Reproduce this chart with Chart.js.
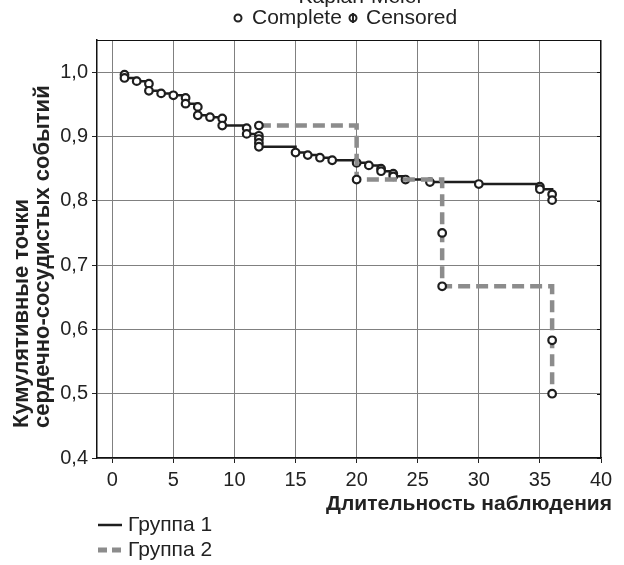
<!DOCTYPE html>
<html>
<head>
<meta charset="utf-8">
<script src="https://cdn.jsdelivr.net/npm/chart.js@4.4.1/dist/chart.umd.min.js"></script>
<style>
  html, body { margin: 0; padding: 0; background: #ffffff; }
  #c { display: block; }
</style>
</head>
<body>
<canvas id="c" width="624" height="565"></canvas>
<script>
// ---- data ----
const group1Time = [1, 1, 2, 3, 3, 4, 5, 6, 6, 7, 7, 8, 9, 9, 11, 11, 12, 12, 12, 12, 15, 16, 17, 18, 20, 21, 22, 22, 23, 23, 24, 26, 30, 35, 35, 36, 36];
const group1Surv = [0.996, 0.991, 0.986, 0.982, 0.971, 0.967, 0.964, 0.960, 0.951, 0.946, 0.933, 0.930, 0.928, 0.917, 0.913, 0.904, 0.901, 0.896, 0.890, 0.884, 0.875, 0.871, 0.867, 0.863, 0.859, 0.855, 0.850, 0.846, 0.842, 0.838, 0.833, 0.829, 0.826, 0.822, 0.818, 0.810, 0.801];
const group2Time = [12, 20, 27, 27, 36, 36];
const group2Surv = [0.917, 0.833, 0.750, 0.667, 0.583, 0.500];
const seriesNames = ['Группа 1', 'Группа 2'];
const xTicks = [0, 5, 10, 15, 20, 25, 30, 35, 40];
const yTicks = [0.4, 0.5, 0.6, 0.7, 0.8, 0.9, 1.0];
const yTickLabels = ['0,4', '0,5', '0,6', '0,7', '0,8', '0,9', '1,0'];
const titleText = 'Kaplan-Meier';
const markerLegend = ['Complete', 'Censored'];
const xTitle = 'Длительность наблюдения';
const yTitleLines = ['Кумулятивные точки', 'сердечно-сосудистых событий'];

const FONT = "'Liberation Sans', Arial, sans-serif";
Chart.defaults.font.family = FONT;

const g1 = group1Time.map((t, i) => ({ x: t, y: group1Surv[i] }));
const g2 = group2Time.map((t, i) => ({ x: t, y: group2Surv[i] }));

const decorPlugin = {
  id: 'decor',
  beforeDatasetsDraw(chart) {
    const c = chart.ctx, a = chart.chartArea;
    c.save();
    c.strokeStyle = '#111';
    c.lineWidth = 1;
    c.beginPath();
    c.moveTo(a.left, a.top + 0.5); c.lineTo(a.right, a.top + 0.5);
    c.moveTo(a.right - 0.5, a.top); c.lineTo(a.right - 0.5, a.bottom);
    const ys = chart.scales.y;
    yTicks.forEach(v => {
      const py = Math.round(ys.getPixelForValue(v)) + 0.5;
      c.moveTo(a.right, py); c.lineTo(a.right - 4, py);
    });
    c.stroke();
    c.restore();
  },
  afterDraw(chart) {
    const c = chart.ctx;
    c.save();
    c.fillStyle = '#222';
    // cut-off title
    c.font = '21px ' + FONT;
    c.textAlign = 'center';
    c.textBaseline = 'alphabetic';
    c.fillText(titleText, 361, 3);
    // marker legend
    c.font = '21px ' + FONT;
    c.textAlign = 'left';
    c.textBaseline = 'middle';
    c.strokeStyle = '#222';
    c.lineWidth = 2;
    c.beginPath(); c.arc(238, 18, 3.5, 0, Math.PI * 2); c.stroke();
    c.fillText(markerLegend[0], 252, 18);
    c.beginPath(); c.arc(353, 18, 3.5, 0, Math.PI * 2); c.stroke();
    c.beginPath(); c.moveTo(353, 13); c.lineTo(353, 23); c.stroke();
    c.fillText(markerLegend[1], 366, 18);
    // x title
    c.font = 'bold 21px ' + FONT;
    c.textAlign = 'right';
    c.textBaseline = 'alphabetic';
    c.fillText(xTitle, 612, 510);
    // y title
    c.font = 'bold 22px ' + FONT;
    c.save();
    c.translate(0, 428);
    c.rotate(-Math.PI / 2);
    c.textAlign = 'left';
    c.fillText(yTitleLines[0], 0, 28);
    c.fillText(yTitleLines[1], 0, 49);
    c.restore();
    // series legend
    c.font = '21px ' + FONT;
    c.textAlign = 'left';
    c.textBaseline = 'middle';
    c.strokeStyle = '#1e1e1e';
    c.lineWidth = 2.5;
    c.beginPath(); c.moveTo(98, 525); c.lineTo(122, 525); c.stroke();
    c.fillText(seriesNames[0], 128, 525);
    c.strokeStyle = '#8c8c8c';
    c.lineWidth = 5;
    c.setLineDash([9, 5]);
    c.beginPath(); c.moveTo(98, 550); c.lineTo(122, 550); c.stroke();
    c.setLineDash([]);
    c.fillText(seriesNames[1], 128, 550);
    c.restore();
  }
};

new Chart(document.getElementById('c'), {
  type: 'scatter',
  data: {
    datasets: [
      {
        label: seriesNames[0], data: g1, showLine: true, stepped: 'before',
        borderColor: '#1e1e1e', borderWidth: 2.5,
        pointRadius: 3.8, pointBorderWidth: 2.2, pointBackgroundColor: '#ffffff', pointBorderColor: '#1e1e1e',
        order: 2
      },
      {
        label: seriesNames[1], data: g2, showLine: true, stepped: 'before',
        borderColor: '#8c8c8c', borderWidth: 4.5, borderDash: [12, 6], borderCapStyle: 'butt',
        pointRadius: 3.8, pointBorderWidth: 2.2, pointBackgroundColor: '#ffffff', pointBorderColor: '#1e1e1e',
        order: 1
      }
    ]
  },
  options: {
    responsive: false,
    animation: false,
    devicePixelRatio: 1,
    layout: { padding: { left: 0, right: 23, top: 40, bottom: 0 } },
    plugins: { legend: { display: false }, tooltip: { enabled: false }, title: { display: false } },
    scales: {
      x: {
        type: 'linear', min: -1.25, max: 40,
        afterBuildTicks: s => { s.ticks = xTicks.map(v => ({ value: v })); },
        afterFit: s => { s.height = 107; },
        ticks: { font: { size: 20 }, color: '#222', padding: 5, maxRotation: 0, autoSkip: false, callback: v => String(v) },
        grid: { color: '#808080', lineWidth: 1, tickLength: 5, tickColor: '#222' },
        border: { color: '#111', width: 1.5 }
      },
      y: {
        type: 'linear', min: 0.4, max: 1.05,
        afterBuildTicks: s => { s.ticks = yTicks.map(v => ({ value: v })); },
        afterFit: s => { s.width = 97; },
        ticks: { font: { size: 20 }, color: '#222', padding: 4, autoSkip: false,
          callback: v => { const i = yTicks.findIndex(t => Math.abs(t - v) < 1e-6); return i >= 0 ? yTickLabels[i] : ''; } },
        grid: { color: '#808080', lineWidth: 1, tickLength: 5, tickColor: '#222' },
        border: { color: '#111', width: 1.5 }
      }
    }
  },
  plugins: [decorPlugin]
});
</script>
</body>
</html>
